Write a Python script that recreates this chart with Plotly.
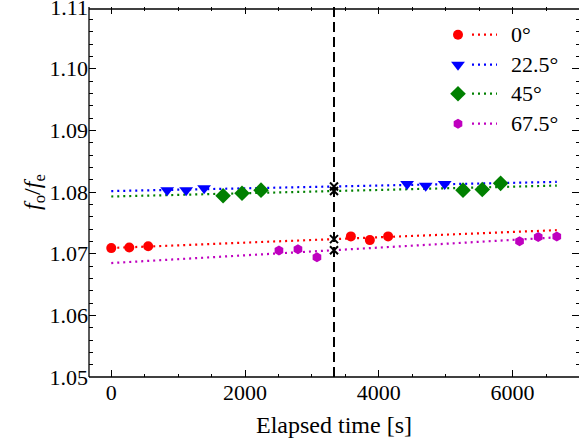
import numpy as np
import plotly.graph_objects as go

# Frequency ratio f_o/f_e measured at four polariser angles
angle_labels = ["0°", "22.5°", "45°", "67.5°"]

time_0 = [0, 269, 552, 3582, 3866, 4139]
ratio_0 = [1.0709, 1.0710, 1.0712, 1.0728, 1.0722, 1.0728]

time_22 = [836, 1119, 1388, 4423, 4701, 4985]
ratio_22 = [1.0803, 1.0803, 1.0806, 1.0813, 1.0810, 1.0813]

time_45 = [1672, 1955, 2239, 5259, 5547, 5821]
ratio_45 = [1.0794, 1.0798, 1.0803, 1.0803, 1.0804, 1.0814]

time_67 = [2507, 2791, 3075, 6104, 6383, 6661]
ratio_67 = [1.0705, 1.0707, 1.0694, 1.0720, 1.0727, 1.0728]

# Reference time where the linear fits are evaluated
mid_time = 3330

x_ticks = [0, 2000, 4000, 6000]
y_ticks = [1.05, 1.06, 1.07, 1.08, 1.09, 1.10, 1.11]

series = [
    (time_0, ratio_0, "#ff0000", "circle", 10),
    (time_22, ratio_22, "#0000ff", "triangle-down", 12),
    (time_45, ratio_45, "#008000", "diamond", 12),
    (time_67, ratio_67, "#bf00bf", "hexagon", 10),
]

FONT = "Liberation Serif"
FS = 22
FS_TITLE = 24
DOT = "2px,4px"

fig = go.Figure()

t_end = max(max(s[0]) for s in series)
fit_t = np.array([0, t_end])
mid_vals = []
for t, r, col, sym, size in series:
    slope, icpt = np.polyfit(t, r, 1)
    fig.add_trace(go.Scatter(x=fit_t, y=icpt + slope * fit_t, mode="lines",
                             line=dict(color=col, width=2.2, dash=DOT),
                             showlegend=False, hoverinfo="skip"))
    mid_vals.append(icpt + slope * mid_time)

for t, r, col, sym, size in series:
    fig.add_trace(go.Scatter(x=t, y=r, mode="markers",
                             marker=dict(symbol=sym, size=size, color=col, line=dict(width=0)),
                             showlegend=False))

# Vertical marker at the reference time
fig.add_trace(go.Scatter(x=[mid_time, mid_time], y=[1.05, 1.11], mode="lines",
                         line=dict(color="black", width=2, dash="10px,5px"),
                         showlegend=False, hoverinfo="skip"))
fig.add_trace(go.Scatter(x=[mid_time] * len(mid_vals), y=mid_vals, mode="markers",
                         marker=dict(symbol="x-thin", size=8, color="black",
                                     line=dict(width=2, color="black")),
                         showlegend=False))

# Legend drawn on a pixel-based overlay axis
L_PX0, L_PX1 = 89, 579
T_PX0, T_PX1 = 7.3, 377.3
rows_y = [35, 65, 94, 124]
for (t, r, col, sym, size), lab, yy in zip(series, angle_labels, rows_y):
    fig.add_trace(go.Scatter(x=[458], y=[yy], mode="markers", xaxis="x2", yaxis="y2",
                             marker=dict(symbol=sym, size=size, color=col, line=dict(width=0)),
                             showlegend=False, hoverinfo="skip"))
    fig.add_trace(go.Scatter(x=[472, 497], y=[yy, yy], mode="lines", xaxis="x2", yaxis="y2",
                             line=dict(color=col, width=2.2, dash=DOT),
                             showlegend=False, hoverinfo="skip"))
    fig.add_annotation(x=509, y=yy, xref="x2", yref="y2", text=lab, showarrow=False,
                       xanchor="left", yanchor="middle",
                       font=dict(family=FONT, size=FS, color="black"))

# Frame: top, left and bottom edges (right edge falls just outside the canvas)
fig.add_shape(type="line", xref="x2", yref="y2", x0=L_PX0, x1=L_PX1, y0=9.2, y1=9.2,
              line=dict(color="black", width=1.5), layer="above")
for x0, y0, x1, y1 in [(0, 0, 0, 1), (0, 0, 1, 0)]:
    fig.add_shape(type="line", xref="paper", yref="paper", x0=x0, y0=y0, x1=x1, y1=y1,
                  line=dict(color="black", width=1.3), layer="above")

axis_common = dict(ticks="inside", tickcolor="black", tickwidth=1.1, automargin=False,
                   showgrid=False, zeroline=False, mirror="allticks", showline=False,
                   ticklabeloverflow="allow",
                   tickfont=dict(family=FONT, size=FS, color="black"))

fig.update_layout(
    template="none",
    width=579, height=443,
    margin=dict(l=89, r=0, t=7, b=66, autoexpand=False),
    paper_bgcolor="white", plot_bgcolor="white",
    font=dict(family=FONT, size=FS, color="black"),
    xaxis=dict(range=[-333, 6993], tickvals=x_ticks, ticklen=7,
               minor=dict(dtick=500, tick0=0, ticks="inside", ticklen=3.5,
                          tickcolor="black", tickwidth=1),
               title=dict(text="Elapsed time [s]",
                          font=dict(family=FONT, size=FS_TITLE, color="black"), standoff=12),
               **axis_common),
    yaxis=dict(range=[1.0499999, 1.1100001], tickvals=y_ticks, tickformat=".2f", ticklen=7,
               minor=dict(dtick=0.002, tick0=1.05, ticks="inside", ticklen=3.5,
                          tickcolor="black", tickwidth=1),
               title=dict(text="<i>f</i><sub>o</sub>/<i>f</i><sub>e</sub>",
                          font=dict(family=FONT, size=FS_TITLE, color="black"), standoff=2),
               **axis_common),
    xaxis2=dict(range=[L_PX0, L_PX1], overlaying="x", visible=False, domain=[0, 1]),
    yaxis2=dict(range=[T_PX1, T_PX0], overlaying="y", visible=False, domain=[0, 1]),
)

fig.write_html("out.html")
